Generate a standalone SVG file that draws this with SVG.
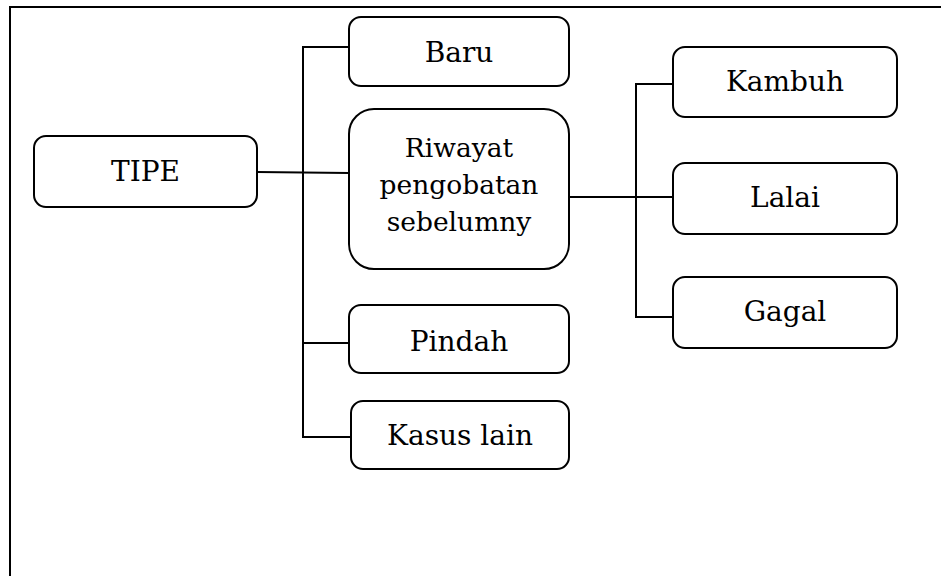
<svg xmlns="http://www.w3.org/2000/svg" width="941" height="576" viewBox="0 0 941 576">
  <style>
    .box { fill: #ffffff; stroke: #000000; stroke-width: 2; }
    .link { fill: none; stroke: #000000; stroke-width: 2; }
    .label { font-family: "DejaVu Serif", "Liberation Serif", serif; font-size: 28px; fill: #000000; text-anchor: middle; }
    .label-sm { font-size: 26.5px; }
  </style>
  <rect width="941" height="576" fill="#ffffff"/>
  <!-- outer frame -->
  <rect x="10" y="7" width="945" height="585" fill="none" stroke="#000000" stroke-width="2"/>

  <g id="connectors">
    <!-- TIPE to the left trunk -->
    <path class="link" d="M257 172 L349 173"/>
    <!-- left trunk and its branches -->
    <path class="link" d="M349 47 H303 V437 H351"/>
    <path class="link" d="M303 343 H349"/>
    <!-- Riwayat to the right trunk -->
    <path class="link" d="M569 197 H673"/>
    <path class="link" d="M673 84 H636 V317 H673"/>
  </g>

  <g id="tipe">
    <rect class="box" x="34" y="136" width="223" height="71" rx="12"/>
    <text class="label" x="145.5" y="181">TIPE</text>
  </g>
  <g id="baru">
    <rect class="box" x="349" y="17" width="220" height="69" rx="12"/>
    <text class="label" x="459" y="62">Baru</text>
  </g>
  <g id="riwayat">
    <rect class="box" x="349" y="109" width="220" height="160" rx="25"/>
    <text class="label label-sm" x="459" y="157">Riwayat</text>
    <text class="label label-sm" x="459" y="194">pengobatan</text>
    <text class="label label-sm" x="459" y="231">sebelumny</text>
  </g>
  <g id="pindah">
    <rect class="box" x="349" y="305" width="220" height="68" rx="12"/>
    <text class="label" x="459" y="351">Pindah</text>
  </g>
  <g id="kasus-lain">
    <rect class="box" x="351" y="401" width="218" height="68" rx="12"/>
    <text class="label" x="460" y="445">Kasus lain</text>
  </g>
  <g id="kambuh">
    <rect class="box" x="673" y="47" width="224" height="70" rx="12"/>
    <text class="label" x="785" y="91">Kambuh</text>
  </g>
  <g id="lalai">
    <rect class="box" x="673" y="163" width="224" height="71" rx="12"/>
    <text class="label" x="785" y="207">Lalai</text>
  </g>
  <g id="gagal">
    <rect class="box" x="673" y="277" width="224" height="71" rx="12"/>
    <text class="label" x="785" y="321">Gagal</text>
  </g>
</svg>
